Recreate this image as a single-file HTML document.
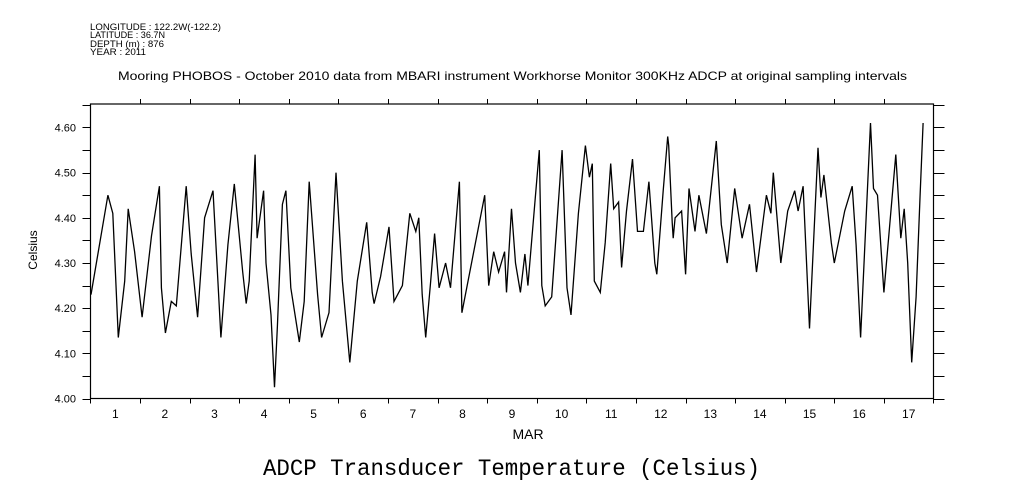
<!DOCTYPE html>
<html><head><meta charset="utf-8"><style>
html,body{margin:0;padding:0;background:#fff;}
svg{display:block;font-family:"Liberation Sans",sans-serif;}
</style></head><body>
<svg width="1009" height="504" viewBox="0 0 1009 504">
<g font-size="9" fill="#000">
<text x="90" y="30" textLength="131" lengthAdjust="spacingAndGlyphs">LONGITUDE : 122.2W(-122.2)</text>
<text x="90" y="38" textLength="75" lengthAdjust="spacingAndGlyphs">LATITUDE : 36.7N</text>
<text x="90" y="47" textLength="74" lengthAdjust="spacingAndGlyphs">DEPTH (m) : 876</text>
<text x="90" y="55" textLength="56" lengthAdjust="spacingAndGlyphs">YEAR : 2011</text>
</g>
<text x="118" y="80" textLength="789" lengthAdjust="spacingAndGlyphs" font-size="12">Mooring PHOBOS - October 2010 data from MBARI instrument Workhorse Monitor 300KHz ADCP at original sampling intervals</text>
<g id="axes"></g>
<g id="series"></g>
<text x="37" y="250" text-anchor="middle" font-size="12" transform="rotate(-90 37 250)">Celsius</text>
<text x="528" y="439" text-anchor="middle" font-size="14">MAR</text>
<text x="263" y="475" textLength="497" lengthAdjust="spacingAndGlyphs" font-size="23" font-family="'Liberation Mono','DejaVu Sans Mono',monospace">ADCP Transducer Temperature (Celsius)</text>
</svg>
<script>
const dayLabels=[1,2,3,4,5,6,7,8,9,10,11,12,13,14,15,16,17];
const yTickLabels=["4.00","4.10","4.20","4.30","4.40","4.50","4.60"];
const times=[1.01,1.35,1.45,1.56,1.69,1.76,1.89,2.04,2.23,2.39,2.43,2.51,2.63,2.73,2.93,3.03,3.16,3.30,3.47,3.57,3.63,3.77,3.90,4.07,4.14,4.20,4.32,4.36,4.49,4.54,4.64,4.71,4.77,4.87,4.94,5.04,5.21,5.31,5.41,5.58,5.66,5.81,5.95,6.08,6.23,6.38,6.57,6.68,6.72,6.85,7.02,7.12,7.29,7.44,7.56,7.62,7.69,7.76,7.86,7.94,8.03,8.16,8.26,8.44,8.49,8.95,9.03,9.13,9.23,9.35,9.39,9.49,9.57,9.67,9.76,9.82,10.05,10.10,10.17,10.30,10.51,10.61,10.69,10.84,10.98,11.06,11.12,11.16,11.28,11.38,11.49,11.55,11.65,11.71,11.81,11.93,12.03,12.15,12.26,12.38,12.42,12.55,12.64,12.66,12.73,12.75,12.79,12.92,13.00,13.07,13.19,13.27,13.42,13.62,13.72,13.84,13.99,14.14,14.29,14.43,14.63,14.72,14.77,14.92,15.06,15.20,15.27,15.37,15.50,15.67,15.73,15.79,15.94,16.00,16.21,16.36,16.44,16.53,16.73,16.79,16.87,17.00,17.24,17.34,17.41,17.48,17.56,17.65,17.73,17.79];
const temps=[4.23,4.45,4.41,4.135,4.26,4.42,4.325,4.18,4.36,4.47,4.245,4.145,4.215,4.205,4.47,4.32,4.18,4.40,4.46,4.26,4.135,4.34,4.475,4.28,4.21,4.26,4.54,4.355,4.46,4.30,4.185,4.025,4.16,4.43,4.46,4.245,4.125,4.215,4.48,4.23,4.135,4.19,4.50,4.26,4.08,4.26,4.39,4.235,4.21,4.27,4.38,4.215,4.25,4.41,4.37,4.40,4.23,4.135,4.26,4.365,4.245,4.30,4.245,4.48,4.19,4.45,4.25,4.325,4.28,4.325,4.235,4.42,4.30,4.235,4.32,4.25,4.55,4.25,4.205,4.225,4.55,4.245,4.185,4.41,4.56,4.49,4.52,4.26,4.235,4.345,4.52,4.42,4.435,4.29,4.415,4.53,4.37,4.37,4.48,4.30,4.275,4.46,4.58,4.56,4.39,4.355,4.40,4.415,4.275,4.465,4.37,4.45,4.365,4.57,4.385,4.30,4.465,4.355,4.43,4.28,4.45,4.41,4.50,4.30,4.415,4.46,4.415,4.47,4.155,4.555,4.445,4.495,4.345,4.30,4.415,4.47,4.34,4.135,4.61,4.465,4.45,4.235,4.54,4.355,4.42,4.30,4.08,4.225,4.45,4.61];

const L=90.5,R=933.5,T=104,B=398.5;
const X0=1,X1=18;
const Y0=4.0,Y1=4.652;
function xs(t){return L+(t-X0)/(X1-X0)*(R-L);}
function ys(v){return B-(v-Y0)/(Y1-Y0)*(B-T);}
const NS="http://www.w3.org/2000/svg";
const axes=document.getElementById('axes');
function mk(tag,attrs,parent){const e=document.createElementNS(NS,tag);for(const k in attrs)e.setAttribute(k,attrs[k]);parent.appendChild(e);return e;}
const frame=mk('rect',{x:L,y:T,width:R-L,height:B-T,fill:'none',stroke:'#000','stroke-width':1.2},axes);


for(let d=2;d<=17;d++){
  const x=Math.round(xs(d))+0.5;
  const t1=mk('line',{x1:x,x2:x,y1:B,y2:B+5,stroke:'#000'},axes);
  
  
  const t2=mk('line',{x1:x,x2:x,y1:T,y2:T-5,stroke:'#000'},axes);
  
  
}
for(const x of [L,R]){
  const t=mk('line',{x1:x,x2:x,y1:B,y2:B+5,stroke:'#000'},axes);
  
  
}
dayLabels.forEach(d=>{
  const tx=mk('text',{x:xs(d+0.5),y:418,'text-anchor':'middle','font-size':12},axes);
  tx.textContent=d;
  
  
});
for(let i=0;i<=13;i++){
  const v=Y0+i*0.05;
  if(v>Y1)break;
  const y=Math.round(ys(v))+0.5;
  const a=mk('line',{x1:L-8,x2:L,y1:y,y2:y,stroke:'#000'},axes);
  
  
  const b=mk('line',{x1:R,x2:R+11,y1:y,y2:y,stroke:'#000'},axes);
  
  
}
yTickLabels.forEach(s=>{
  const tx=mk('text',{x:76,y:ys(parseFloat(s))+4,'text-anchor':'end','font-size':11},axes);
  tx.textContent=s;
  
  
});
const series=document.getElementById('series');
let pts=[];
times.forEach((t,i)=>{pts.push(xs(t).toFixed(1)+','+ys(temps[i]).toFixed(1));});
const line=mk('polyline',{points:pts.join(' '),fill:'none',stroke:'#000','stroke-width':1.3,'stroke-linejoin':'miter'},series);


</script>
</body></html>
